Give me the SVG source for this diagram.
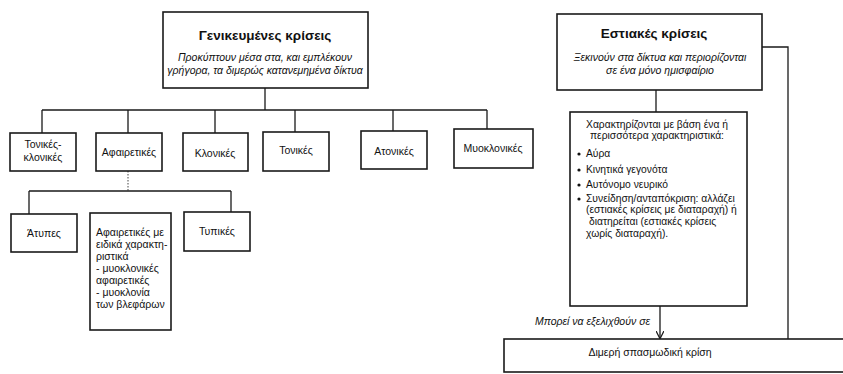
<svg xmlns="http://www.w3.org/2000/svg" width="843" height="374" viewBox="0 0 843 374">
<style>
  .box{fill:#fff;stroke:#1a1a1a;stroke-width:1.6}
  .ln{fill:none;stroke:#1a1a1a;stroke-width:1.3}
  .dot{fill:none;stroke:#444;stroke-width:1;stroke-dasharray:1.5 1.5}
  text{font-family:"Liberation Sans",Arial,sans-serif;fill:#111;font-size:10.5px}
  .c{text-anchor:middle}
  .t{font-weight:bold;font-size:13.5px}
  .i{font-style:italic;font-size:10.5px}
  .s{font-size:10.3px}
</style>
<defs>
  <marker id="arr" viewBox="0 0 10 10" refX="9" refY="5" markerWidth="8" markerHeight="8" orient="auto" markerUnits="userSpaceOnUse">
    <path d="M0,0 L10,5 L0,10" fill="none" stroke="#1a1a1a" stroke-width="1.5"/>
  </marker>
</defs>
<rect width="843" height="374" fill="#fff"/>
<g id="connectors">
  <path class="ln" d="M265,88 V110 M42,110 H487 M42,110 V133 M128,110 V133 M215,110 V133 M295,110 V132 M393,110 V131 M487,110 V129"/>
  <path class="dot" d="M128,171 V191"/>
  <path class="ln" d="M29,191 H231 M29,191 V214 M231,191 V212"/>
  <path class="ln" d="M656,90 V112"/>
  <path class="ln" d="M762,47 H788 V339"/>
  <path class="ln" d="M660,306 V338" marker-end="url(#arr)"/>
  <text class="i" x="535" y="325">Μπορεί να εξελιχθούν σε</text>
</g>
<g id="gen">
  <rect class="box" x="163" y="12" width="205" height="76"/>
  <text class="c t" x="265" y="40">Γενικευμένες κρίσεις</text>
  <text class="c i" x="265" y="61">Προκύπτουν μέσα στα, και εμπλέκουν</text>
  <text class="c i" x="265" y="74">γρήγορα, τα διμερώς κατανεμημένα δίκτυα</text>
</g>
<g id="tonclon">
  <rect class="box" x="10" y="133" width="66" height="38"/>
  <text class="c" x="43" y="148">Τονικές-</text>
  <text class="c" x="43" y="161">κλονικές</text>
</g>
<g id="afair">
  <rect class="box" x="96" y="133" width="66" height="38"/>
  <text class="c" x="129" y="156">Αφαιρετικές</text>
</g>
<g id="klon">
  <rect class="box" x="183" y="133" width="65" height="38"/>
  <text class="c" x="215" y="157">Κλονικές</text>
</g>
<g id="ton">
  <rect class="box" x="263" y="132" width="66" height="39"/>
  <text class="c" x="296" y="154">Τονικές</text>
</g>
<g id="aton">
  <rect class="box" x="361" y="131" width="66" height="38"/>
  <text class="c" x="394" y="155">Ατονικές</text>
</g>
<g id="myoklon">
  <rect class="box" x="454" y="129" width="79" height="39"/>
  <text class="c" x="493" y="152">Μυοκλονικές</text>
</g>
<g id="atypes">
  <rect class="box" x="11" y="214" width="66" height="38"/>
  <text class="c" x="44" y="237">Άτυπες</text>
</g>
<g id="eidikes">
  <rect class="box" x="90" y="213" width="81" height="117"/>
  <text x="96" y="236">Αφαιρετικές με</text>
  <text x="96" y="248">ειδικά χαρακτη-</text>
  <text x="96" y="260">ριστικά</text>
  <text x="96" y="272">- μυοκλονικές</text>
  <text x="96" y="284">αφαιρετικές</text>
  <text x="96" y="296">- μυοκλονία</text>
  <text x="96" y="308">των βλεφάρων</text>
</g>
<g id="typikes">
  <rect class="box" x="184" y="212" width="66" height="39"/>
  <text class="c" x="217" y="235">Τυπικές</text>
</g>
<g id="estiakes">
  <rect class="box" x="557" y="14" width="205" height="76"/>
  <text class="c t" x="654" y="38">Εστιακές κρίσεις</text>
  <text class="c i" x="660" y="61">Ξεκινούν στα δίκτυα και περιορίζονται</text>
  <text class="c i" x="660" y="74">σε ένα μόνο ημισφαίριο</text>
</g>
<g id="char">
  <rect class="box" x="570" y="112" width="177" height="194"/>
  <text class="c s" x="657" y="128">Χαρακτηρίζονται με βάση ένα ή</text>
  <text class="c s" x="657" y="139">περισσότερα χαρακτηριστικά:</text>
  <circle cx="579" cy="154" r="1.6" fill="#111"/>
  <text class="s" x="586" y="157">Αύρα</text>
  <circle cx="579" cy="170" r="1.6" fill="#111"/>
  <text class="s" x="586" y="173">Κινητικά γεγονότα</text>
  <circle cx="579" cy="185" r="1.6" fill="#111"/>
  <text class="s" x="586" y="188">Αυτόνομο νευρικό</text>
  <circle cx="579" cy="199" r="1.6" fill="#111"/>
  <text class="s" x="586" y="202">Συνείδηση/ανταπόκριση: αλλάζει</text>
  <text class="s" x="586" y="213">(εστιακές κρίσεις με διαταραχή) ή</text>
  <text class="s" x="589" y="225">διατηρείται (εστιακές κρίσεις</text>
  <text class="s" x="586" y="237">χωρίς διαταραχή).</text>
</g>
<g id="dimeri">
  <rect class="box" x="504" y="339" width="345" height="33"/>
  <text class="c" x="650" y="356">Διμερή σπασμωδική κρίση</text>
</g>
</svg>
